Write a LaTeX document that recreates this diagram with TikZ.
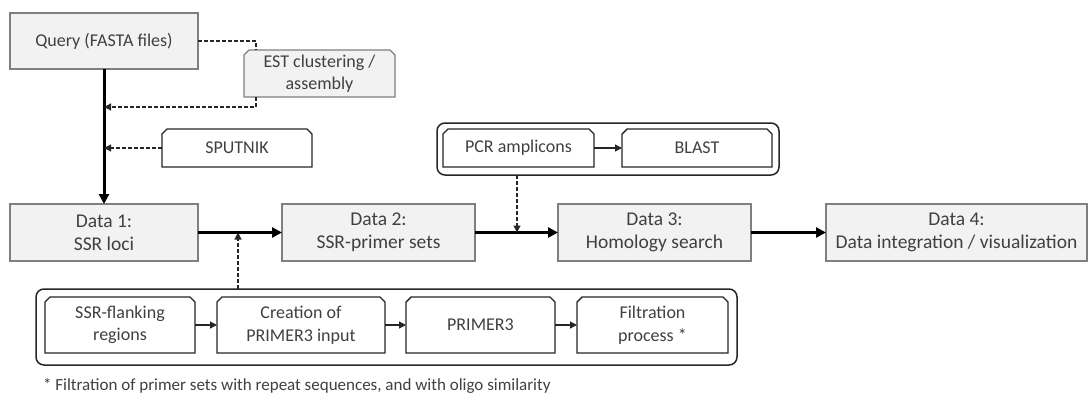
\documentclass[tikz,border=0pt]{standalone}
\usepackage{fontspec}
\setmainfont{Carlito}
\usetikzlibrary{arrows.meta,backgrounds,calc}
\definecolor{txt}{HTML}{404040}
\definecolor{boxfill}{HTML}{F2F2F2}
\definecolor{boxline}{HTML}{7F7F7F}
\definecolor{dark}{HTML}{262626}
\newcommand{\chamferbox}[2]{\draw[#2] ([xshift=5pt]#1.north west) -- ([xshift=-5pt]#1.north east) -- ([yshift=-5pt]#1.north east) -- (#1.south east) -- (#1.south west) -- ([yshift=-5pt]#1.north west) -- cycle;}
\begin{document}
\begin{tikzpicture}[x=1pt,y=-1pt,
  every node/.style={inner sep=0pt, outer sep=0pt, text=txt, align=center},
  databox/.style={draw=boxline, fill=boxfill, line width=1.3pt, font=\fontsize{19.5}{23}\selectfont},
  querybox/.style={draw=boxline, fill=boxfill, line width=1.3pt, font=\fontsize{18}{22.5}\selectfont},
  chambox/.style={font=\fontsize{18}{22.5}\selectfont},
  container/.style={draw=dark, line width=1.5pt, rounded corners=8pt},
  chamline/.style={draw=dark, fill=white, line width=1.4pt},
  estline/.style={draw=boxline, fill=boxfill, line width=1.3pt},
  mainarrow/.style={draw=black, line width=3pt, -{Triangle[length=10pt,width=10pt]}},
  thinarrow/.style={draw=dark, line width=1.2pt, -{Triangle[length=7pt,width=7pt]}},
  dashline/.style={draw=dark, line width=1.2pt, dash pattern=on 4pt off 2pt},
  dasharrow/.style={dashline, -{Triangle[length=7pt,width=7pt]}}
]
\useasboundingbox (0,0) rectangle (1089,399);

% top part
\node[querybox, minimum width=188pt, minimum height=56pt] (query) at (104,41) {Query (FASTA files)};
\node[chambox, minimum width=151pt, minimum height=47pt] (est) at (319.5,73.5) {EST clustering /\\assembly};
\node[chambox, minimum width=150pt, minimum height=38pt] (sput) at (237,148) {SPUTNIK};

% PCR container
\node[container, minimum width=342pt, minimum height=52pt] (pcrc) at (608,149) {};
\node[chambox, minimum width=151pt, minimum height=38pt] (pcr) at (518.5,148) {PCR amplicons};
\node[chambox, minimum width=150pt, minimum height=38pt] (blast) at (697,148) {BLAST};

% data row
\node[databox, minimum width=188pt, minimum height=57pt] (d1) at (104,232.5) {Data 1:\\SSR loci};
\node[databox, minimum width=193pt, minimum height=57pt] (d2) at (378.5,232.5) {Data 2:\\SSR-primer sets};
\node[databox, minimum width=193pt, minimum height=57pt] (d3) at (654.5,232.5) {Data 3:\\Homology search};
\node[databox, minimum width=261pt, minimum height=57pt] (d4) at (956.5,232.5) {Data 4:\\Data integration / visualization};

% bottom container
\node[container, minimum width=701pt, minimum height=76pt] (bot) at (386.5,327) {};
\node[chambox, minimum width=150pt, minimum height=56pt] (ssr) at (120,325) {SSR-flanking\\regions};
\node[chambox, minimum width=168pt, minimum height=56pt] (crea) at (301,325) {Creation of\\PRIMER3 input};
\node[chambox, minimum width=149pt, minimum height=56pt] (p3) at (480.5,325) {PRIMER3};
\node[chambox, minimum width=151pt, minimum height=56pt] (filt) at (652.5,325) {Filtration\\process *};

\node[anchor=west, font=\fontsize{17}{20}\selectfont] (note) at (43,386) {* Filtration of primer sets with repeat sequences, and with oligo similarity};

\begin{scope}[on background layer]
  \chamferbox{est}{estline}
  \chamferbox{sput}{chamline}
  \chamferbox{pcr}{chamline}
  \chamferbox{blast}{chamline}
  \chamferbox{ssr}{chamline}
  \chamferbox{crea}{chamline}
  \chamferbox{p3}{chamline}
  \chamferbox{filt}{chamline}
\end{scope}

% junction points
\coordinate (j1) at (104,107);
\coordinate (j2) at (104,148);
\coordinate (m1) at (238,232.5);
\coordinate (m2) at (517,232.5);

% main flow
\draw[mainarrow] (query.south) -- (d1.north);
\draw[mainarrow] (d1.east) -- (d2.west);
\draw[mainarrow] (d2.east) -- (d3.west);
\draw[mainarrow] (d3.east) -- (d4.west);

% dashed side inputs
\draw[dashline] (query.east) -| ([xshift=-63.5pt]est.north);
\draw[dasharrow] ([xshift=-63.5pt]est.south) |- (j1);
\draw[dasharrow] (sput.west) -- (j2);
\draw[dasharrow] (bot.north -| m1) -- (m1);
\draw[dasharrow] (pcrc.south -| m2) -- (m2);

% inner arrows
\draw[thinarrow] (pcr.east) -- (blast.west);
\draw[thinarrow] (ssr.east) -- (crea.west);
\draw[thinarrow] (crea.east) -- (p3.west);
\draw[thinarrow] (p3.east) -- (filt.west);
\end{tikzpicture}
\end{document}
